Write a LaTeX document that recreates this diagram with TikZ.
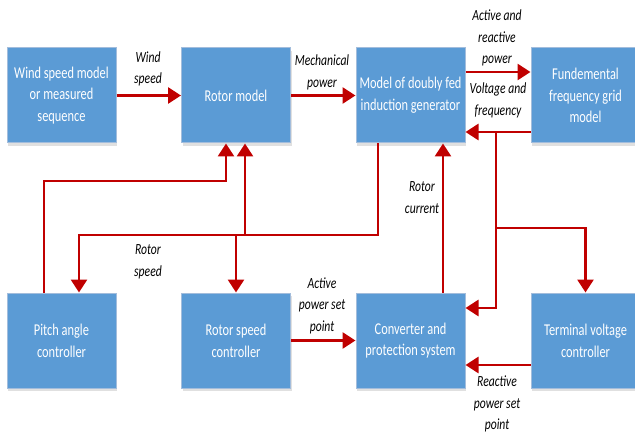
\documentclass[tikz,border=0pt]{standalone}
\usepackage{fontspec}
\setmainfont{Carlito}[FakeStretch=0.75]
\usetikzlibrary{arrows.meta,shadows}
\definecolor{boxblue}{HTML}{5B9BD5}
\definecolor{boxline}{HTML}{A3BDDC}
\definecolor{linkred}{HTML}{C00000}
\begin{document}
\begin{tikzpicture} [
                x=1pt, y=-1pt,
                block/.style={rectangle, fill=boxblue, draw=boxline, line width=1pt,
                    minimum width=109pt, minimum height=95pt, inner sep=0pt,
                    align=center, text=white, font=\fontsize{16.5}{21.7}\selectfont,
                    drop shadow={shadow xshift=1pt, shadow yshift=-3pt, opacity=0.12, fill=black}},
                signal/.style = {draw=linkred, line width=2.8pt, -{Triangle[length=13pt,width=16pt]}},
                note/.style = {align=center, inner sep=0pt, font=\fontsize{15.5}{21.5}\selectfont\itshape},
            ]
            \useasboundingbox (0,0) rectangle (635,433);
            % First we draw the blocks
            \foreach \pos/\name/\txt in {
                    {(61.5,95.5)/wind/{Wind speed model\\or measured\\sequence}},
                    {(236,95.5)/rotor/{Rotor model}},
                    {(410.5,95.5)/dfig/{Model of doubly fed\\induction generator}},
                    {(585.5,95.5)/grid/{Fundemental\\frequency grid\\model}},
                    {(61.5,340.5)/pitch/{Pitch angle\\controller}},
                    {(236,340.5)/rspeed/{Rotor speed\\controller}},
                    {(410.5,340.5)/conv/{Converter and\\protection system}},
                    {(585.5,340.5)/term/{Terminal voltage\\controller}}}
                \node[block] (\name) at \pos {\txt};
            % Levels and columns of the signal lines
            \coordinate (pq) at (0,72);
            \coordinate (vf) at (0,132);
            \coordinate (pa) at (0,181);
            \coordinate (tv) at (0,228);
            \coordinate (sp) at (0,235);
            \coordinate (cv) at (0,308);
            \coordinate (qs) at (0,365);
            \coordinate (pu) at (44,0);
            \coordinate (pd) at (79,0);
            \coordinate (pv) at (226,0);
            \coordinate (ru) at (245,0);
            \coordinate (rs) at (378,0);
            \coordinate (rc) at (443,0);
            \coordinate (vb) at (496,0);
            % Connect blocks with signals
            \path[signal] (wind) -- (rotor);
            \path[signal] (rotor) -- (dfig);
            \path[signal] (dfig.east |- pq) -- (grid.west |- pq);
            \path[signal] (grid.west |- vf) -- (dfig.east |- vf);
            \path[signal] (vb |- vf) -- (vb |- cv) -- (conv.east |- cv);
            \path[signal] (vb |- tv) -| (term.north);
            \path[signal] (rc |- conv.north) -- (rc |- dfig.south);
            \path[signal] (rs |- dfig.south) -- (rs |- sp) -- (pd |- sp) -- (pd |- pitch.north);
            \path[signal] (rspeed.north |- sp) -- (rspeed.north);
            \path[signal] (ru |- sp) -- (ru |- rotor.south);
            \path[signal] (pu |- pitch.north) -- (pu |- pa) -- (pv |- pa) -- (pv |- rotor.south);
            \path[signal] (rspeed) -- (conv);
            \path[signal] (term.west |- qs) -- (conv.east |- qs);
            % Signal names
            \node[note] (nwind) at (148,69) {Wind\\speed};
            \node[note] (nmech) at (322,72.5) {Mechanical\\power};
            \node[note] (npq) at (497,38) {Active and\\reactive\\power};
            \node[note] (nvf) at (498,100.5) {Voltage and\\frequency};
            \node[note] (nrc) at (422,197.5) {Rotor\\current};
            \node[note] (nrs) at (148,262) {Rotor\\speed};
            \node[note] (nps) at (322,305.5) {Active\\power set\\point};
            \node[note] (nqs) at (497,404) {Reactive\\power set\\point};
        \end{tikzpicture}
\end{document}
